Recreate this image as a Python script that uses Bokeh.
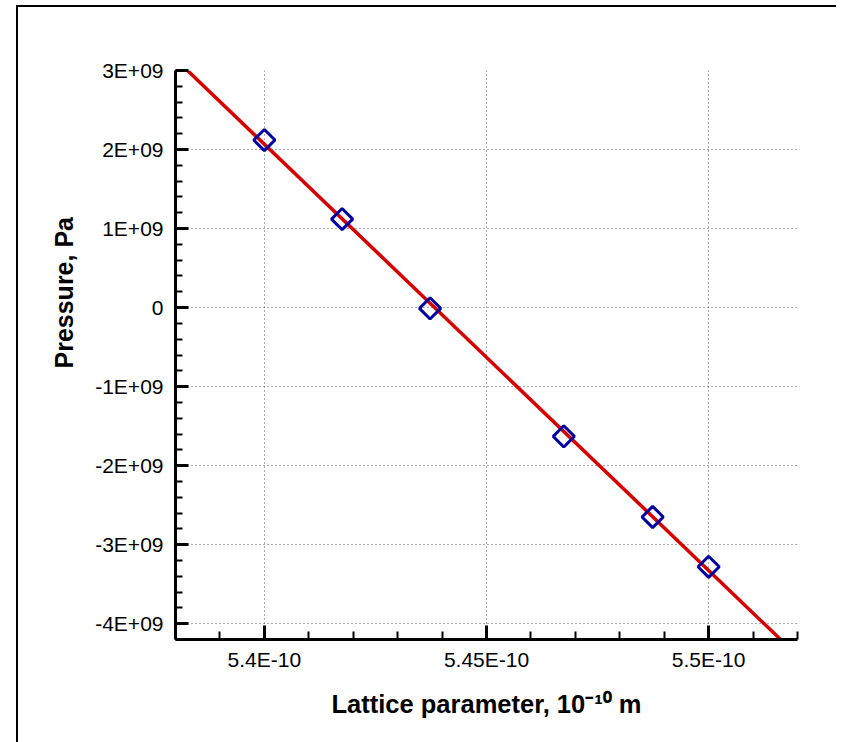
from bokeh.plotting import figure
from bokeh.models import Range1d, FixedTicker, InlineStyleSheet, Title
from bokeh.embed import file_html
from bokeh.resources import INLINE
import numpy as np

# Data
lattice_a = [5.400e-10, 5.4175e-10, 5.4373e-10, 5.4674e-10, 5.4874e-10, 5.500e-10]
pressure = [2.12e9, 1.12e9, -0.01e9, -1.63e9, -2.65e9, -3.28e9]

fit_a = [5.3827e-10, 5.5162e-10]
fit_p = [3.0e9, -4.2e9]

x_ticks = [5.40e-10, 5.45e-10, 5.50e-10]
x_tick_labels = ["5.4E-10", "5.45E-10", "5.5E-10"]
x_minor = [5.38e-10 + i * 0.01e-10 for i in range(15)]

y_ticks = [-4e9, -3e9, -2e9, -1e9, 0.0, 1e9, 2e9, 3e9]
y_tick_labels = ["-4E+09", "-3E+09", "-2E+09", "-1E+09", "0", "1E+09", "2E+09", "3E+09"]
y_minor = [-4.2e9 + i * 0.2e9 for i in range(37)]

x_lo, x_hi = 5.38e-10, 5.52e-10
y_lo, y_hi = -4.2e9, 3.0e9

x_title = "Lattice parameter, 10\u207b\u00b9\u2070 m"
y_title = "Pressure, Pa"

border_css = InlineStyleSheet(css="""
:host::after { content: ''; position: absolute; left: 16px; top: 5px; width: 830px; height: 737px;
  border: none !important; outline: none !important; box-shadow: none !important;
  background: linear-gradient(black, black) left top / 100% 2px no-repeat,
              linear-gradient(black, black) left top / 2px 100% no-repeat !important;
  clip-path: inset(0 10px 0 0);
  pointer-events: none; }
""")

frame_top, frame_bottom = 70, 639
p = figure(width=830, height=726, x_range=Range1d(x_lo, x_hi), y_range=Range1d(y_lo, y_hi),
           output_backend="svg", toolbar_location=None,
           min_border_left=175, min_border_top=frame_top, min_border_right=33,
           min_border_bottom=726 - frame_bottom)
p.stylesheets = [border_css]
p.outline_line_color = None
p.background_fill_color = "white"
p.border_fill_color = "white"

p.line(fit_a, fit_p, line_color="#d40000", line_width=3.5)
p.scatter(lattice_a, pressure, marker="square", angle=np.pi / 4, size=15,
          line_color="#0000a0", line_width=3, fill_color=None)

for ax in (p.xaxis[0], p.yaxis[0]):
    ax.axis_line_width = 3
    ax.axis_line_color = "black"
    ax.major_tick_line_width = 3
    ax.minor_tick_line_width = 2
    ax.major_tick_out = 0
    ax.minor_tick_out = 0
    ax.major_label_text_font = "Liberation Sans"
    ax.major_label_text_font_size = "21px"
    ax.major_label_text_color = "black"
    ax.axis_label_text_font = "Liberation Sans"
    ax.axis_label_text_font_style = "bold"
    ax.axis_label_text_font_size = "25.5px"
    ax.axis_label_text_color = "black"

p.xaxis[0].ticker = FixedTicker(ticks=x_ticks, minor_ticks=x_minor)
p.xaxis[0].major_label_overrides = dict(zip(x_ticks, x_tick_labels))
p.xaxis[0].major_tick_in = 14
p.xaxis[0].minor_tick_in = 8
p.xaxis[0].major_label_standoff = 8
p.xaxis[0].axis_label = x_title
p.xaxis[0].axis_label_standoff = 16

p.yaxis[0].ticker = FixedTicker(ticks=y_ticks, minor_ticks=y_minor)
p.yaxis[0].major_label_overrides = dict(zip(y_ticks, y_tick_labels))
p.yaxis[0].major_tick_in = 13
p.yaxis[0].minor_tick_in = 7
p.yaxis[0].major_label_standoff = 12

# y title: placed as a side title so it can sit above the frame centre, as in the reference
p.add_layout(Title(text=y_title, align="left", offset=frame_bottom - 368, standoff=30,
                   text_font="Liberation Sans", text_font_style="bold",
                   text_font_size="25px", text_color="black"), "left")

for g in (p.xgrid[0], p.ygrid[0]):
    g.grid_line_color = "#555555"
    g.grid_line_dash = "1 3"
    g.grid_line_width = 1

open("out.html", "w").write(file_html(p, INLINE))
